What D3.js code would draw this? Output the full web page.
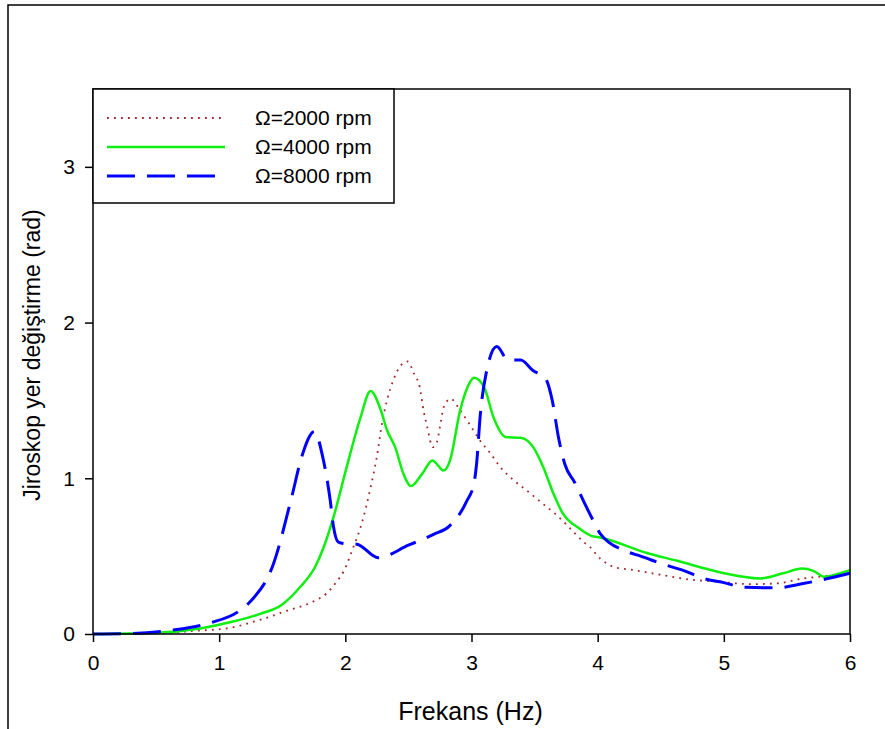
<!DOCTYPE html>
<html>
<head>
<meta charset="utf-8">
<script src="https://cdn.jsdelivr.net/npm/d3@7"></script>
<style>
  body { margin: 0; background: #fff; }
  text { font-family: "Liberation Sans", Arial, sans-serif; fill: #000; }
</style>
</head>
<body>
<svg id="chart" width="885" height="729"></svg>
<script>
// frequency (Hz) / displacement (rad)
const f2000 = [0, 0.5, 0.8, 1.06, 1.32, 1.54, 1.75, 1.85, 1.93, 1.985, 2.06, 2.13, 2.20, 2.25, 2.29, 2.33, 2.38, 2.435, 2.495, 2.545, 2.59, 2.62, 2.646, 2.694, 2.725, 2.75, 2.78, 2.835, 2.91, 2.99, 3.07, 3.15, 3.23, 3.33, 3.44, 3.56, 3.68, 3.78, 3.89, 3.95, 4.0, 4.06, 4.13, 4.29, 4.50, 4.73, 4.97, 5.21, 5.42, 5.63, 5.79, 6.0];
const v2000 = [0, 0.005, 0.02, 0.036, 0.09, 0.15, 0.21, 0.26, 0.335, 0.40, 0.55, 0.71, 0.94, 1.14, 1.35, 1.50, 1.63, 1.72, 1.75, 1.67, 1.585, 1.436, 1.34, 1.20, 1.23, 1.33, 1.457, 1.51, 1.436, 1.34, 1.24, 1.16, 1.07, 0.99, 0.92, 0.84, 0.76, 0.68, 0.59, 0.55, 0.50, 0.46, 0.43, 0.41, 0.38, 0.35, 0.335, 0.32, 0.325, 0.357, 0.37, 0.39];

const f4000 = [0, 0.5, 0.85, 1.11, 1.32, 1.50, 1.64, 1.76, 1.83, 1.906, 2.01, 2.12, 2.20, 2.28, 2.33, 2.395, 2.46, 2.52, 2.61, 2.69, 2.78, 2.83, 2.91, 2.99, 3.02, 3.10, 3.175, 3.27, 3.39, 3.48, 3.57, 3.65, 3.72, 3.85, 3.95, 4.02, 4.39, 4.63, 4.95, 5.29, 5.47, 5.62, 5.71, 5.80, 5.90, 6.0];
const v4000 = [0, 0.008, 0.036, 0.08, 0.128, 0.19, 0.30, 0.43, 0.56, 0.75, 1.07, 1.39, 1.56, 1.44, 1.31, 1.20, 1.03, 0.95, 1.03, 1.115, 1.05, 1.115, 1.436, 1.62, 1.645, 1.585, 1.39, 1.265, 1.26, 1.21, 1.07, 0.90, 0.78, 0.68, 0.63, 0.62, 0.52, 0.47, 0.40, 0.357, 0.39, 0.42, 0.405, 0.367, 0.385, 0.41];

const f8000 = [0, 0.3, 0.63, 0.93, 1.15, 1.245, 1.43, 1.575, 1.655, 1.755, 1.82, 1.88, 1.906, 1.945, 2.0, 2.09, 2.26, 2.5, 2.7, 2.82, 2.96, 3.02, 3.04, 3.07, 3.12, 3.20, 3.29, 3.39, 3.49, 3.58, 3.64, 3.69, 3.74, 3.82, 3.89, 3.97, 4.02, 4.23, 4.34, 4.55, 4.655, 4.87, 4.97, 5.17, 5.37, 5.47, 5.59, 5.79, 6.0];
const v8000 = [0, 0.003, 0.025, 0.072, 0.143, 0.207, 0.45, 0.88, 1.14, 1.30, 1.14, 0.86, 0.69, 0.59, 0.58, 0.577, 0.49, 0.57, 0.64, 0.69, 0.85, 0.97, 1.09, 1.41, 1.69, 1.846, 1.76, 1.76, 1.69, 1.65, 1.5, 1.26, 1.09, 0.97, 0.85, 0.72, 0.645, 0.53, 0.50, 0.44, 0.415, 0.35, 0.335, 0.30, 0.297, 0.30, 0.318, 0.35, 0.39];

const seriesNames = ['\u03A9=2000 rpm', '\u03A9=4000 rpm', '\u03A9=8000 rpm'];
const xTicks = [0, 1, 2, 3, 4, 5, 6];
const yTicks = [0, 1, 2, 3];

const svg = d3.select('#chart');
const margin = { left: 93, top: 89, right: 35, bottom: 95 };
const width = 885 - margin.left - margin.right;
const height = 729 - margin.top - margin.bottom;

// outer page frame
svg.append('rect')
  .attr('x', 8).attr('y', 5)
  .attr('width', 900).attr('height', 800)
  .attr('fill', 'none').attr('stroke', '#000').attr('stroke-width', 1.5);

const g = svg.append('g').attr('transform', `translate(${margin.left},${margin.top})`);

const x = d3.scaleLinear().domain([0, 6]).range([0, width]);
const y = d3.scaleLinear().domain([0, 3.5]).range([height, 0]);

const series = [
  { name: seriesNames[0], f: f2000, v: v2000, color: '#a0282a', w: 1.8, dash: '1.8,5.2' },
  { name: seriesNames[1], f: f4000, v: v4000, color: '#11ee11', w: 2.5, dash: null },
  { name: seriesNames[2], f: f8000, v: v8000, color: '#0000ff', w: 3, dash: '28,12' },
];

const line = d3.line()
  .x(d => x(d[0]))
  .y(d => y(d[1]))
  .curve(d3.curveMonotoneX);

series.forEach(s => {
  g.append('path')
    .datum(s.f.map((f, i) => [f, s.v[i]]))
    .attr('d', line)
    .attr('fill', 'none')
    .attr('stroke', s.color)
    .attr('stroke-width', s.w)
    .attr('stroke-dasharray', s.dash);
});

// plot box
g.append('rect')
  .attr('width', width).attr('height', height)
  .attr('fill', 'none').attr('stroke', '#000').attr('stroke-width', 1.5);

// axes
const xAxis = g.append('g')
  .attr('transform', `translate(0,${height})`)
  .call(d3.axisBottom(x).tickValues(xTicks).tickSize(8).tickPadding(13).tickFormat(d3.format('d')));
const yAxis = g.append('g')
  .call(d3.axisLeft(y).tickValues(yTicks).tickSize(8).tickPadding(10).tickFormat(d3.format('d')));
[xAxis, yAxis].forEach(a => {
  a.select('.domain').remove();
  a.selectAll('line').attr('stroke', '#000').attr('stroke-width', 1.5);
  a.selectAll('text').style('font-size', '21px').style('font-family', '"Liberation Sans", Arial, sans-serif');
});

svg.append('text')
  .attr('x', margin.left + width / 2 - 1).attr('y', 720)
  .attr('text-anchor', 'middle')
  .style('font-size', '25px')
  .text('Frekans (Hz)');

svg.append('text')
  .attr('transform', `translate(40,355) rotate(-90)`)
  .attr('text-anchor', 'middle')
  .style('font-size', '23px')
  .text('Jiroskop yer değiştirme (rad)');

// legend
const legend = g.append('g');
legend.append('rect')
  .attr('width', 301).attr('height', 114)
  .attr('fill', '#fff').attr('stroke', '#000').attr('stroke-width', 1.5);
series.forEach((s, i) => {
  const ly = 29 + i * 29;
  legend.append('line')
    .attr('x1', 14).attr('x2', 132).attr('y1', ly).attr('y2', ly)
    .attr('stroke', s.color).attr('stroke-width', s.w)
    .attr('stroke-dasharray', s.dash);
  legend.append('text')
    .attr('x', 162).attr('y', ly + 7)
    .style('font-size', '21px')
    .text(s.name);
});
</script>
</body>
</html>
